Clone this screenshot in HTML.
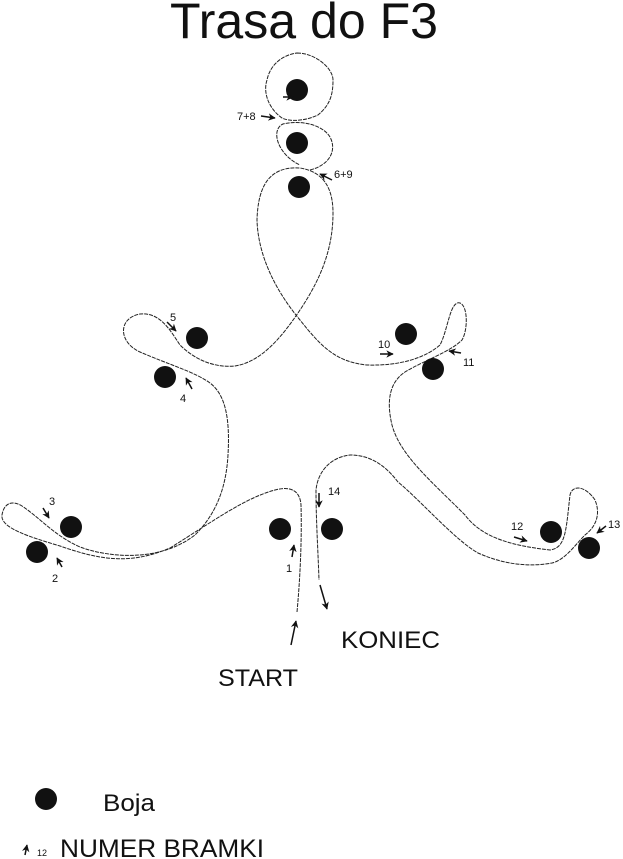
<!DOCTYPE html>
<html><head><meta charset="utf-8"><style>
html,body{margin:0;padding:0;background:#fff;}
svg{display:block;}
text{font-family:"Liberation Sans",Arial,sans-serif;fill:#111;}
</style></head><body>
<svg width="623" height="859" viewBox="0 0 623 859" xmlns="http://www.w3.org/2000/svg">
<defs>
<marker id="ah" viewBox="0 0 10 10" refX="9" refY="5" markerWidth="5" markerHeight="5" orient="auto"><path d="M0,0 L10,5 L0,10 L3,5 z" fill="#111"/></marker>
</defs>
<text x="304" y="38" font-size="50" text-anchor="middle" textLength="268" lengthAdjust="spacingAndGlyphs">Trasa do F3</text>
<g fill="none" stroke="#222" stroke-width="1" stroke-dasharray="4 1">
<path d="M297,612 C300,580 302,540 301,505 C300,490 290,486 275,490 C245,498 215,520 170,548 C130,565 100,560 60,546 C30,537 0,528 2,515 C4,503 12,500 22,506 C40,518 55,536 80,547 C110,558 160,562 195,535 C215,515 226,490 228,455 C230,420 226,395 210,383 C195,372 170,365 140,352 C118,342 118,318 140,314 C160,312 170,330 180,345 C195,360 215,368 235,366 C260,362 280,340 300,310 C320,280 333,250 333,213 C333,190 325,172 300,168 C270,166 258,185 257,220 C258,255 275,290 300,320 C320,345 335,362 367,365 C400,366 425,358 440,345 C448,330 450,300 460,303 C468,306 468,330 462,340 C450,352 425,360 405,372 C390,382 386,400 392,425 C400,455 430,480 465,515 C480,535 505,545 550,550 C566,548 566,530 570,495 C572,485 585,485 595,500 C600,512 598,525 585,535 C575,545 565,560 552,563 C530,567 505,565 478,553 C455,540 420,500 398,482 C385,465 370,455 350,455 C332,457 318,470 316,490 C316,520 318,550 319,580"/>
<path d="M310,170 C330,165 337,150 330,137 C322,124 300,120 283,124 C270,130 278,155 300,165"/>
<path d="M297,53 C315,53 333,68 333,80 C333,95 330,105 318,115 C305,121 290,122 282,118 C268,108 263,92 267,80 C270,65 282,55 297,53 Z"/>
</g>
<g fill="#111">
<circle cx="297" cy="90" r="11"/><circle cx="297" cy="143" r="11"/><circle cx="299" cy="187" r="11"/>
<circle cx="197" cy="338" r="11"/><circle cx="165" cy="377" r="11"/>
<circle cx="406" cy="334" r="11"/><circle cx="433" cy="369" r="11"/>
<circle cx="71" cy="527" r="11"/><circle cx="37" cy="552" r="11"/>
<circle cx="280" cy="529" r="11"/><circle cx="332" cy="529" r="11"/>
<circle cx="551" cy="532" r="11"/><circle cx="589" cy="548" r="11"/>
<circle cx="46" cy="799" r="11"/>
</g>
<g stroke="#111" stroke-width="1.5" fill="none" marker-end="url(#ah)">
<line x1="283" y1="97" x2="293" y2="97"/>
<line x1="261" y1="116" x2="275" y2="118"/>
<line x1="332" y1="180" x2="320" y2="174"/>
<line x1="167" y1="322" x2="176" y2="331"/>
<line x1="192" y1="389" x2="186" y2="378"/>
<line x1="380" y1="354" x2="393" y2="354"/>
<line x1="461" y1="353" x2="449" y2="351"/>
<line x1="43" y1="508" x2="49" y2="518"/>
<line x1="62" y1="567" x2="57" y2="558"/>
<line x1="292" y1="557" x2="294" y2="545"/>
<line x1="319" y1="493" x2="319" y2="507"/>
<line x1="514" y1="537" x2="527" y2="541"/>
<line x1="606" y1="526" x2="597" y2="533"/>
<line x1="291" y1="645" x2="296" y2="621"/>
<line x1="320" y1="585" x2="327" y2="609"/>
<line x1="25" y1="855" x2="27" y2="845"/>
</g>
<g font-size="11">
<text x="237" y="120">7+8</text>
<text x="334" y="178">6+9</text>
<text x="170" y="321">5</text>
<text x="180" y="402">4</text>
<text x="378" y="348">10</text>
<text x="463" y="366">11</text>
<text x="49" y="505">3</text>
<text x="52" y="582">2</text>
<text x="286" y="572">1</text>
<text x="328" y="495">14</text>
<text x="511" y="530">12</text>
<text x="608" y="528">13</text>
<text x="37" y="856" font-size="9">12</text>
</g>
<text x="341" y="648" font-size="24" textLength="99" lengthAdjust="spacingAndGlyphs">KONIEC</text>
<text x="218" y="686" font-size="24" textLength="80" lengthAdjust="spacingAndGlyphs">START</text>
<text x="103" y="811" font-size="24" textLength="52" lengthAdjust="spacingAndGlyphs">Boja</text>
<text x="60" y="857" font-size="25" textLength="204" lengthAdjust="spacingAndGlyphs">NUMER BRAMKI</text>
</svg>
</body></html>
